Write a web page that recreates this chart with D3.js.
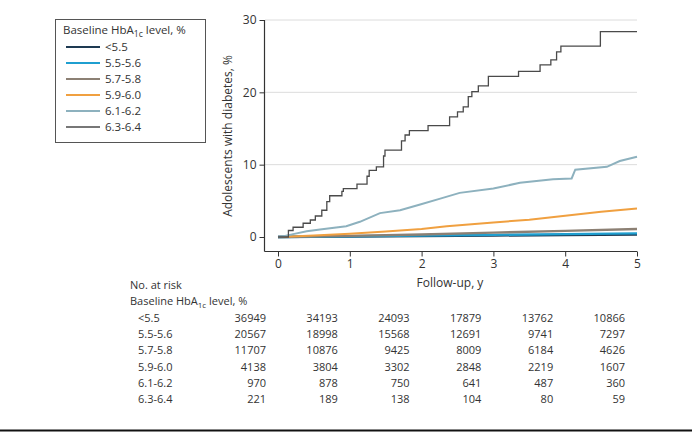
<!DOCTYPE html>
<html><head><meta charset="utf-8">
<script src="https://cdn.jsdelivr.net/npm/d3@7"></script>
<style>
body{margin:0;background:#fff;}
text{font-family:"Open Sans",Lato,sans-serif;fill:#333;}
</style></head>
<body><svg id="c" width="692" height="432"></svg>
<script>
// ---- data ----
const groups = ["<5.5","5.5-5.6","5.7-5.8","5.9-6.0","6.1-6.2","6.3-6.4"];
const colors = ["#1e3a52","#1f9fd0","#8c8074","#f0a040","#8db1be","#4a4a4a"];
const xTicks = [0,1,2,3,4,5];
const yTicks = [0,10,20,30];
// follow-up years (t) and cumulative incidence % (v) per group
const t_lt55 = [0,1,2,3,4,5];
const v_lt55 = [0,0.05,0.12,0.2,0.28,0.35];
const t_55 = [0,1,2,3,4,5];
const v_55 = [0,0.1,0.2,0.3,0.4,0.5];
const t_57 = [0,1,2,3,4,5];
const v_57 = [0,0.15,0.35,0.6,0.85,1.1];
const t_59 = [0,0.1,0.5,1.0,1.5,2.0,2.35,3.0,3.5,4.0,4.5,5.0];
const v_59 = [0,0.02,0.2,0.45,0.75,1.1,1.5,2.0,2.4,2.95,3.5,3.95];
const t_61 = [0,0.05,0.21,0.4,0.585,0.95,1.14,1.42,1.7,1.98,2.26,2.53,3.0,3.37,3.83,4.09,4.14,4.58,4.76,5.0];
const v_61 = [0,0.05,0.4,0.8,1.05,1.5,2.1,3.3,3.7,4.5,5.3,6.1,6.7,7.5,8.0,8.1,9.3,9.7,10.5,11.1];
const t_63 = [0,0.145,0.21,0.35,0.45,0.52,0.61,0.68,0.72,0.89,0.91,1.10,1.24,1.27,1.37,1.47,1.49,1.72,1.77,1.83,2.09,2.39,2.50,2.58,2.65,2.70,2.79,2.93,3.35,3.65,3.80,3.88,3.94,4.49,5.0];
const v_63 = [0,0.9,1.35,1.9,2.35,2.9,3.7,4.9,5.7,6.3,6.7,7.3,8.4,9.2,9.7,11.2,12.0,13.3,14.1,14.7,15.4,16.6,17.3,18.0,19.4,20.1,20.9,22.2,22.9,23.8,24.5,25.6,26.4,28.4,28.4];
const times = [t_lt55,t_55,t_57,t_59,t_61,t_63];
const vals = [v_lt55,v_55,v_57,v_59,v_61,v_63];
// number at risk
const risk_lt55 = [36949,34193,24093,17879,13762,10866];
const risk_55 = [20567,18998,15568,12691,9741,7297];
const risk_57 = [11707,10876,9425,8009,6184,4626];
const risk_59 = [4138,3804,3302,2848,2219,1607];
const risk_61 = [970,878,750,641,487,360];
const risk_63 = [221,189,138,104,80,59];
const risks = [risk_lt55,risk_55,risk_57,risk_59,risk_61,risk_63];

const svg = d3.select("#c");
const x = d3.scaleLinear().domain([0,5]).range([278,637]);
const y = d3.scaleLinear().domain([0,30]).range([237,20]);

// gridlines
svg.append("g").selectAll("line").data(yTicks.filter(d=>d>0)).join("line")
  .attr("x1",265).attr("x2",637).attr("y1",d=>y(d)).attr("y2",d=>y(d))
  .attr("stroke","#dcdcdc").attr("stroke-width",1);

// axes
const yAxis = svg.append("g").attr("transform","translate(264.5,0)")
  .call(d3.axisLeft(y).tickValues(yTicks).tickFormat(d3.format("d")).tickSize(5).tickPadding(3));
yAxis.select(".domain").attr("d","M0,20V251.5").attr("stroke","#333").attr("stroke-width",1.2);
const xAxis = svg.append("g").attr("transform","translate(0,251.5)")
  .call(d3.axisBottom(x).tickValues(xTicks).tickFormat(d3.format("d")).tickSize(5).tickPadding(3));
xAxis.select(".domain").attr("d","M264.5,0H637").attr("stroke","#333").attr("stroke-width",1.2);
svg.selectAll(".tick line").attr("stroke","#333");
svg.selectAll(".tick text").style("font-size","12px").attr("fill","#333");

// curves
d3.range(groups.length).forEach(i=>{
  const pts = times[i].map((t,k)=>[t,vals[i][k]]);
  const line = d3.line().x(d=>x(d[0])).y(d=>y(d[1]))
    .curve(i===5 ? d3.curveStepAfter : d3.curveLinear);
  svg.append("path").datum(pts).attr("d",line).attr("fill","none")
    .attr("stroke",colors[i]).attr("stroke-width", i===5?1.3:(i<3?2.4:2));
});

// axis titles
svg.append("text").attr("transform","translate(232,136) rotate(-90)")
  .attr("text-anchor","middle").style("font-size","12px").text("Adolescents with diabetes, %");
svg.append("text").attr("x",450).attr("y",287).attr("text-anchor","middle")
  .style("font-size","12px").text("Follow-up, y");

// legend
const lg = svg.append("g");
lg.append("rect").attr("x",55.5).attr("y",19.5).attr("width",150).attr("height",123)
  .attr("fill","#fff").attr("stroke","#555").attr("stroke-width",1);
const title = (sel, xx, yy, fs)=>{
  const tx = sel.append("text").attr("x",xx).attr("y",yy).style("font-size",fs+"px");
  tx.append("tspan").text("Baseline HbA");
  tx.append("tspan").attr("dy",3).style("font-size",(fs-3)+"px").text("1c");
  tx.append("tspan").attr("dy",-3).text(" level, %");
};
title(lg,63,34,11.5);
groups.forEach((g,i)=>{
  const yy = 47 + i*16;
  lg.append("line").attr("x1",66).attr("x2",100).attr("y1",yy).attr("y2",yy)
    .attr("stroke",colors[i]).attr("stroke-width",i===5?1.3:1.8);
  lg.append("text").attr("x",105).attr("y",yy+4).style("font-size","11.5px").text(g);
});

// risk table
svg.append("text").attr("x",130).attr("y",289).style("font-size","11px").text("No. at risk");
title(svg,130,305,11);
groups.forEach((g,i)=>{
  const yy = 322 + i*16.2;
  svg.append("text").attr("x",138).attr("y",yy).style("font-size","11px").text(g);
  risks[i].forEach((n,k)=>{
    svg.append("text").attr("x",x(xTicks[k])-12).attr("y",yy).attr("text-anchor","end")
      .style("font-size","11px").text(String(n));
  });
});

// bottom rule
svg.append("line").attr("x1",0).attr("x2",692).attr("y1",430.5).attr("y2",430.5)
  .attr("stroke","#111").attr("stroke-width",2);
</script></body></html>
